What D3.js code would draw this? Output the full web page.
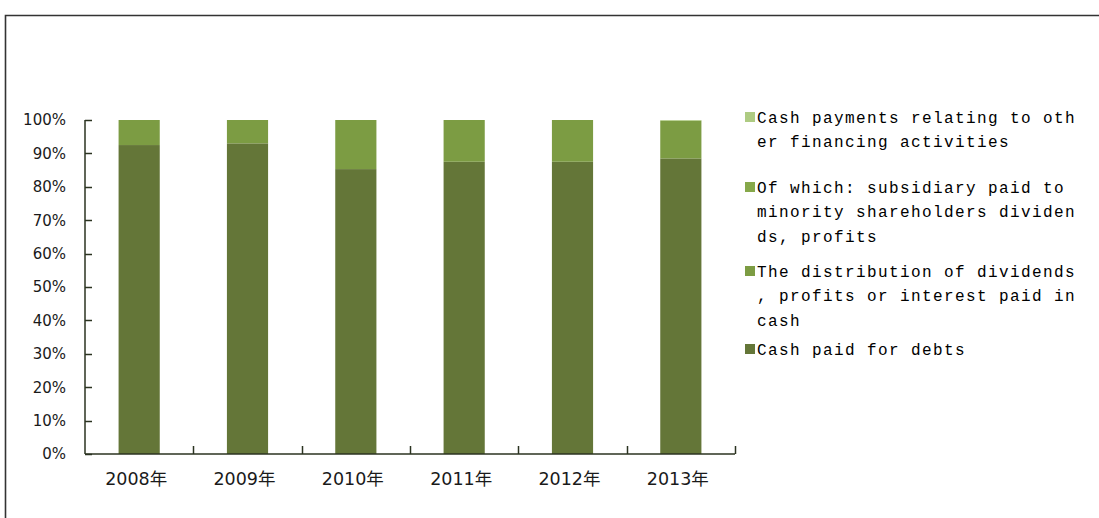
<!DOCTYPE html>
<html>
<head>
<meta charset="utf-8">
<script src="https://cdn.jsdelivr.net/npm/d3@7/dist/d3.min.js"></script>
<style>
  html, body { margin: 0; padding: 0; background: #fff; }
  svg { display: block; }
</style>
</head>
<body>
<svg id="chart" width="1099" height="518"></svg>
<script>
// Years shown on the category axis
const years = ["2008年", "2009年", "2010年", "2011年", "2012年", "2013年"];

// Share of financing cash outflows per year (%)
const cashPaidForDebts = [92.5, 93.0, 85.3, 87.5, 87.5, 88.5];
const dividendsProfitsInterest = [7.5, 7.0, 14.7, 12.5, 12.5, 11.3];
const subsidiaryToMinority = [0, 0, 0, 0, 0, 0];
const otherFinancingPayments = [0, 0, 0, 0, 0, 0.2];

// Y-axis tick labels
const yTicks = [0, 10, 20, 30, 40, 50, 60, 70, 80, 90, 100];

// Series in stacking order (bottom to top); legend lists them top to bottom
const seriesNames = [
  "Cash paid for debts",
  "The distribution of dividends, profits or interest paid in cash",
  "Of which: subsidiary paid to minority shareholders dividends, profits",
  "Cash payments relating to other financing activities"
];
const seriesColors = ["#647638", "#7c9c43", "#86a84a", "#aecb82"];
const legendLines = [
  ["Cash payments relating to oth", "er financing activities"],
  ["Of which: subsidiary paid to", "minority shareholders dividen", "ds, profits"],
  ["The distribution of dividends", ", profits or interest paid in", "cash"],
  ["Cash paid for debts"]
];

const svg = d3.select("#chart");

// Outer frame
svg.append("path")
  .attr("d", "M5.5,520 V15.5 H1101")
  .attr("fill", "none")
  .attr("stroke", "#333")
  .attr("stroke-width", 1.6);

const plot = { left: 85, right: 735, top: 120, bottom: 454 };

const x = d3.scaleBand()
  .domain(years)
  .range([plot.left, plot.right])
  .paddingInner(0.62)
  .paddingOuter(0.31);

const y = d3.scaleLinear()
  .domain([0, 100])
  .range([plot.bottom, plot.top]);

const table = years.map((yr, i) => ({
  year: yr,
  s0: cashPaidForDebts[i],
  s1: dividendsProfitsInterest[i],
  s2: subsidiaryToMinority[i],
  s3: otherFinancingPayments[i]
}));
const stack = d3.stack().keys(["s0", "s1", "s2", "s3"])(table);

// Bars
svg.append("g")
  .selectAll("g")
  .data(stack)
  .join("g")
  .attr("fill", (d, i) => seriesColors[i])
  .selectAll("rect")
  .data(d => d)
  .join("rect")
  .attr("x", d => x(d.data.year))
  .attr("width", x.bandwidth())
  .attr("y", d => y(d[1]))
  .attr("height", d => Math.max(0, y(d[0]) - y(d[1])));

const axisColor = "#2b3320";

// Y axis: line with ticks pointing into the plot
const yAxis = svg.append("g").attr("transform", `translate(${plot.left},0)`);
yAxis.append("line")
  .attr("y1", y(0)).attr("y2", y(100))
  .attr("stroke", axisColor).attr("stroke-width", 1.5);
yAxis.selectAll("line.tick")
  .data(yTicks)
  .join("line")
  .attr("class", "tick")
  .attr("x1", 0).attr("x2", 7)
  .attr("y1", d => Math.round(y(d)) + 0.5)
  .attr("y2", d => Math.round(y(d)) + 0.5)
  .attr("stroke", axisColor).attr("stroke-width", 1.5);
yAxis.selectAll("text")
  .data(yTicks)
  .join("text")
  .attr("x", -19)
  .attr("y", d => y(d))
  .attr("dy", "0.36em")
  .attr("text-anchor", "end")
  .attr("font-family", "DejaVu Sans, sans-serif")
  .attr("font-size", 15)
  .attr("fill", "#1a1a1a")
  .text(d => d + "%");

// X axis: baseline with upward ticks at category boundaries
const xAxis = svg.append("g");
xAxis.append("line")
  .attr("x1", plot.left).attr("x2", plot.right)
  .attr("y1", plot.bottom).attr("y2", plot.bottom)
  .attr("stroke", axisColor).attr("stroke-width", 1.5);
const step = x.step();
const boundaries = years.map((yr, i) => x(yr) - x.paddingInner() * step / 2 + step);
xAxis.selectAll("line.tick")
  .data(boundaries)
  .join("line")
  .attr("class", "tick")
  .attr("x1", d => Math.round(d) + 0.5).attr("x2", d => Math.round(d) + 0.5)
  .attr("y1", plot.bottom).attr("y2", plot.bottom - 8)
  .attr("stroke", axisColor).attr("stroke-width", 1.5);
xAxis.selectAll("text")
  .data(years)
  .join("text")
  .attr("x", d => x(d) + x.bandwidth() / 2 - 3)
  .attr("y", 485)
  .attr("text-anchor", "middle")
  .attr("font-family", "DejaVu Sans, 'Noto Sans CJK SC', sans-serif")
  .attr("font-size", 17.5)
  .attr("fill", "#1a1a1a")
  .text(d => d);

// Legend
const legendStarts = [117, 187, 271, 349];
const lineGap = 24.5;
const legend = svg.append("g");
legendLines.forEach((lines, k) => {
  const seriesIdx = seriesColors.length - 1 - k;
  const g = legend.append("g").attr("transform", `translate(745,${legendStarts[k]})`);
  g.append("rect")
    .attr("x", 0).attr("y", -5)
    .attr("width", 10).attr("height", 10)
    .attr("fill", seriesColors[seriesIdx]);
  lines.forEach((ln, j) => {
    g.append("text")
      .attr("x", 12)
      .attr("y", j * lineGap)
      .attr("dy", "0.35em")
      .attr("font-family", "Liberation Mono, DejaVu Sans Mono, monospace")
      .attr("font-size", 16)
      .attr("letter-spacing", 1.4)
      .attr("fill", "#000")
      .text(ln);
  });
});
</script>
</body>
</html>
